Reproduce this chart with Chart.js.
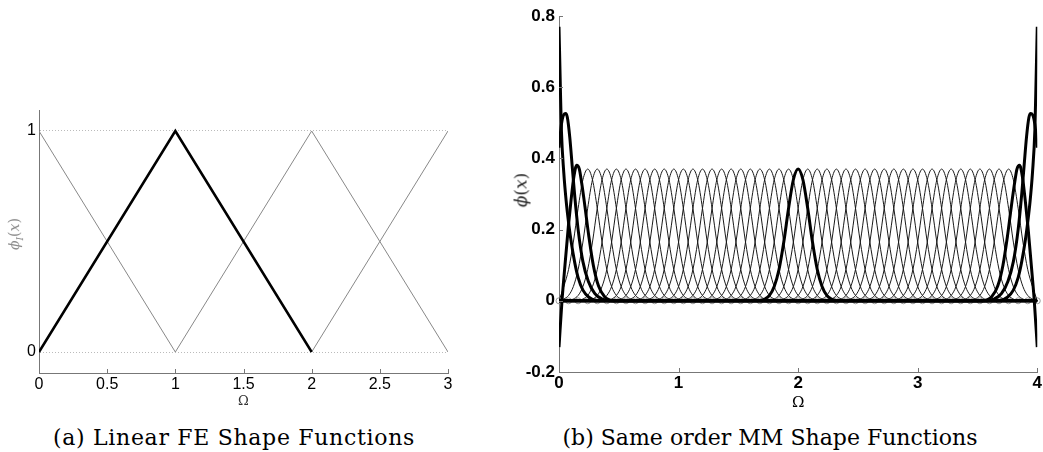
<!DOCTYPE html>
<html>
<head>
<meta charset="utf-8">
<script src="https://cdn.jsdelivr.net/npm/chart.js@4.4.1/dist/chart.umd.min.js"></script>
<style>
  html, body { margin: 0; padding: 0; background: #fff; }
  #page { position: relative; width: 1043px; height: 452px; overflow: hidden; }
  canvas { position: absolute; top: 0; }
  #feChart { left: 0; }
  #mmChart { left: 480px; }
  .ylab { position: absolute; white-space: nowrap; font-family: "DejaVu Serif", serif; transform: translate(-50%, -50%) rotate(-90deg); line-height: 1; }
  .caption { position: absolute; white-space: nowrap; font-family: "DejaVu Serif", serif; font-size: 22px; color: #000; transform: translate(-50%, -50%); }
</style>
</head>
<body>
<div id="page">
  <canvas id="feChart" width="470" height="412"></canvas>
  <canvas id="mmChart" width="563" height="412"></canvas>
  <div class="ylab" style="left:16px;top:234px;font-size:14px;color:#888"><i>ϕ</i><sub style="font-size:9px"><i>I</i></sub>(<i>x</i>)</div>
  <div class="ylab" style="left:521px;top:190px;font-size:17px;color:#222"><i>ϕ</i>(<i>x</i>)</div>
  <div class="caption" style="left:234px;top:437px" data-w="362">(a) Linear FE Shape Functions</div>
  <div class="caption" style="left:770px;top:437px" data-w="415">(b) Same order MM Shape Functions</div>
</div>
<script>
// (a) linear FE hat functions, null = outside the support
var feX = [0, 1, 2, 3];
var feN0 = [1, 0, null, null];
var feN1 = [0, 1, 0, null];
var feN2 = [null, 0, 1, 0];
var feN3 = [null, null, 0, 1];
var feXTicks = [0, 0.5, 1, 1.5, 2, 2.5, 3];
var feYTicks = [0, 1];

// (b) MM nodes
var mmNodes = [0, 0.08, 0.16, 0.24, 0.32, 0.4, 0.48, 0.56, 0.64, 0.72, 0.8, 0.88, 0.96,
  1.04, 1.12, 1.2, 1.28, 1.36, 1.44, 1.52, 1.6, 1.68, 1.76, 1.84, 1.92, 2,
  2.08, 2.16, 2.24, 2.32, 2.4, 2.48, 2.56, 2.64, 2.72, 2.8, 2.88, 2.96,
  3.04, 3.12, 3.2, 3.28, 3.36, 3.44, 3.52, 3.6, 3.68, 3.76, 3.84, 3.92, 4];
// interior shape function, offset from its node / value
var bumpDx = [-0.32, -0.28, -0.24, -0.2, -0.16, -0.12, -0.08, -0.04, 0, 0.04, 0.08, 0.12, 0.16, 0.2, 0.24, 0.28, 0.32];
var bumpY = [0.001, 0.005, 0.015, 0.04, 0.088, 0.165, 0.26, 0.34, 0.37, 0.34, 0.26, 0.165, 0.088, 0.04, 0.015, 0.005, 0.001];
// boundary shape functions [x, value]
var edgeL0 = [[0, 0.77], [0.01, 0.62], [0.02, 0.48], [0.04, 0.36], [0.06, 0.28], [0.08, 0.22], [0.1, 0.17], [0.13, 0.11], [0.16, 0.065], [0.2, 0.03], [0.25, 0.01], [0.32, 0]];
var edgeL1 = [[0, 0.43], [0.02, 0.495], [0.04, 0.523], [0.055, 0.526], [0.07, 0.515], [0.09, 0.46], [0.11, 0.38], [0.13, 0.3], [0.16, 0.2], [0.2, 0.11], [0.245, 0.055], [0.3, 0.02], [0.36, 0.005], [0.44, 0]];
var edgeL2 = [[0, -0.13], [0.025, 0], [0.05, 0.1], [0.078, 0.208], [0.1, 0.28], [0.125, 0.35], [0.148, 0.381], [0.17, 0.37], [0.19, 0.33], [0.217, 0.265], [0.25, 0.18], [0.287, 0.1], [0.33, 0.042], [0.38, 0.012], [0.46, 0]];
var edgeR2 = [[3.54, 0], [3.62, 0.012], [3.67, 0.042], [3.713, 0.1], [3.75, 0.18], [3.783, 0.265], [3.81, 0.33], [3.83, 0.37], [3.852, 0.381], [3.875, 0.35], [3.9, 0.28], [3.922, 0.208], [3.95, 0.1], [3.975, 0], [4, -0.13]];
var edgeR1 = [[3.56, 0], [3.64, 0.005], [3.7, 0.02], [3.755, 0.055], [3.8, 0.11], [3.84, 0.2], [3.87, 0.3], [3.89, 0.38], [3.91, 0.46], [3.93, 0.515], [3.945, 0.526], [3.96, 0.523], [3.98, 0.495], [4, 0.43]];
var edgeR0 = [[3.68, 0], [3.75, 0.01], [3.8, 0.03], [3.84, 0.065], [3.87, 0.11], [3.9, 0.17], [3.92, 0.22], [3.94, 0.28], [3.96, 0.36], [3.98, 0.48], [3.99, 0.62], [4, 0.77]];
var thickNodes = [0, 1, 2, 25, 48, 49, 50];
var mmXTicks = [0, 1, 2, 3, 4];
var mmYTicks = [-0.2, 0, 0.2, 0.4, 0.6, 0.8];

Chart.defaults.font.family = 'Liberation Sans';
Chart.defaults.color = '#000';

// matlab style tick marks pointing into the plot
var inwardTicks = {
  id: 'inwardTicks',
  afterDraw: function (chart, args, opts) {
    var ctx = chart.ctx, a = chart.chartArea;
    ctx.save();
    ctx.strokeStyle = opts.color;
    ctx.lineWidth = 1;
    ctx.beginPath();
    if (opts.x) {
      chart.scales.x.ticks.forEach(function (t) {
        var px = Math.round(chart.scales.x.getPixelForValue(t.value)) + 0.5;
        ctx.moveTo(px, a.bottom);
        ctx.lineTo(px, a.bottom - opts.len);
      });
    }
    if (opts.y) {
      chart.scales.y.ticks.forEach(function (t) {
        var py = Math.round(chart.scales.y.getPixelForValue(t.value)) + 0.5;
        ctx.moveTo(a.left, py);
        ctx.lineTo(a.left + opts.len, py);
      });
    }
    ctx.stroke();
    ctx.restore();
  }
};

function pts(xs, ys) {
  return xs.map(function (x, i) { return { x: x, y: ys[i] }; });
}

new Chart(document.getElementById('feChart'), {
  type: 'line',
  data: {
    datasets: [
      { data: pts(feX, feN1), borderColor: '#000', borderWidth: 2.5 },
      { data: pts(feX, feN0), borderColor: '#888', borderWidth: 1 },
      { data: pts(feX, feN2), borderColor: '#888', borderWidth: 1 },
      { data: pts(feX, feN3), borderColor: '#888', borderWidth: 1 }
    ]
  },
  options: {
    responsive: false,
    animation: false,
    layout: { padding: { top: 110, right: 22, left: 0, bottom: 0 } },
    elements: { point: { radius: 0 }, line: { tension: 0 } },
    plugins: {
      legend: { display: false },
      tooltip: { enabled: false },
      inwardTicks: { x: true, y: false, len: 4, color: '#777' }
    },
    scales: {
      x: {
        type: 'linear', min: 0, max: 3,
        afterBuildTicks: function (s) { s.ticks = feXTicks.map(function (v) { return { value: v }; }); },
        afterFit: function (s) { s.height = 39; },
        grid: { display: false, drawTicks: false, tickLength: 0 },
        border: { display: true, color: '#777', width: 1 },
        ticks: { font: { size: 16 }, padding: 2, maxRotation: 0, autoSkip: false, callback: function (v) { return String(v); } },
        title: { display: true, text: 'Ω', font: { family: 'DejaVu Serif', size: 13 }, color: '#333', padding: { top: 0, bottom: 3 } }
      },
      y: {
        min: -0.095, max: 1.095,
        afterBuildTicks: function (s) { s.ticks = feYTicks.map(function (v) { return { value: v }; }); },
        afterFit: function (s) { s.width = 39; },
        grid: { color: '#bbb', lineWidth: 1, drawTicks: false, tickLength: 0 },
        border: { display: true, color: '#777', width: 1, dash: [1, 2] },
        ticks: { font: { size: 16 }, padding: 3 }
      }
    }
  },
  plugins: [inwardTicks]
});

var edgeCurves = { 0: edgeL0, 1: edgeL1, 2: edgeL2, 48: edgeR2, 49: edgeR1, 50: edgeR0 };
var mmDatasets = [];
mmNodes.forEach(function (cx, i) {
  var p;
  if (edgeCurves[i]) {
    p = edgeCurves[i].map(function (q) { return { x: q[0], y: q[1] }; });
  } else {
    p = bumpDx.map(function (d, k) { return { x: +(cx + d).toFixed(3), y: bumpY[k] }; })
      .filter(function (q) { return q.x > 0 && q.x < 4; });
  }
  if (p[0].x > 0) p.unshift({ x: 0, y: 0 });
  if (p[p.length - 1].x < 4) p.push({ x: 4, y: 0 });
  var thick = thickNodes.indexOf(i) >= 0;
  mmDatasets.push({
    data: p,
    borderColor: thick ? '#000' : '#1a1a1a',
    borderWidth: thick ? 3 : 1,
    cubicInterpolationMode: 'monotone',
    order: thick ? 0 : 1
  });
});
mmDatasets.push({
  data: mmNodes.map(function (x) { return { x: x, y: 0 }; }),
  showLine: false,
  pointRadius: 3,
  pointBorderWidth: 1,
  pointBorderColor: '#999',
  pointBackgroundColor: 'rgba(0,0,0,0)',
  clip: false,
  order: 2
});

new Chart(document.getElementById('mmChart'), {
  type: 'line',
  data: { datasets: mmDatasets },
  options: {
    responsive: false,
    animation: false,
    layout: { padding: { top: 16, right: 5, left: 0, bottom: 0 } },
    elements: { point: { radius: 0 } },
    plugins: {
      legend: { display: false },
      tooltip: { enabled: false },
      inwardTicks: { x: true, y: true, len: 4, color: '#777' }
    },
    scales: {
      x: {
        type: 'linear', min: 0, max: 4,
        afterBuildTicks: function (s) { s.ticks = mmXTicks.map(function (v) { return { value: v }; }); },
        afterFit: function (s) { s.height = 40; },
        grid: { display: false, drawTicks: false, tickLength: 0 },
        border: { display: true, color: '#777', width: 1 },
        ticks: { font: { size: 17, weight: 'bold' }, padding: 1, maxRotation: 0, autoSkip: false },
        title: { display: true, text: 'Ω', font: { family: 'DejaVu Serif', size: 15 }, padding: { top: 0, bottom: 0 } }
      },
      y: {
        min: -0.2, max: 0.8,
        afterBuildTicks: function (s) { s.ticks = mmYTicks.map(function (v) { return { value: v }; }); },
        afterFit: function (s) { s.width = 79; },
        grid: { display: false, drawTicks: false, tickLength: 0 },
        border: { display: true, color: '#777', width: 1 },
        ticks: {
          font: { size: 17, weight: 'bold' }, padding: 4,
          callback: function (v) { return String(Number(v.toFixed(1))); }
        }
      }
    }
  },
  plugins: [inwardTicks]
});

// stretch captions to the reference width
document.querySelectorAll('.caption').forEach(function (el) {
  var w = el.getBoundingClientRect().width;
  var extra = (parseFloat(el.dataset.w) - w) / el.textContent.length;
  el.style.letterSpacing = extra.toFixed(2) + 'px';
});
</script>
</body>
</html>
